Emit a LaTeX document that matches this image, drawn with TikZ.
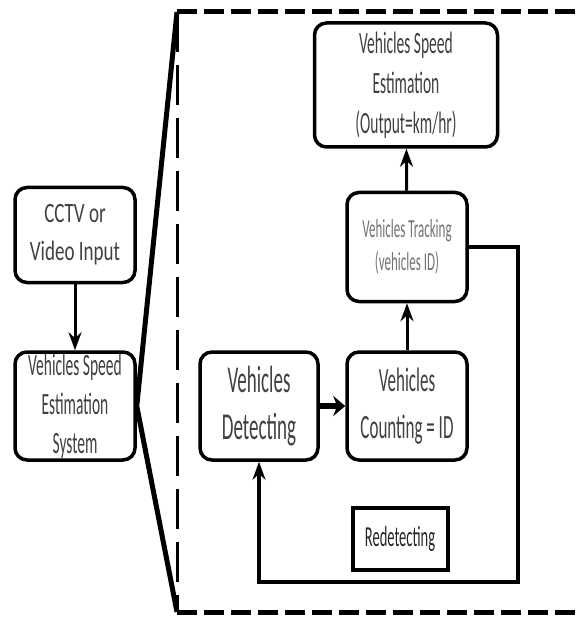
\documentclass[tikz,border=0pt]{standalone}
\usepackage{fontspec}
\setmainfont{Carlito}
\newfontfamily\narrowfont[FakeStretch=0.5]{Carlito}
\newfontfamily\wideishfont[FakeStretch=0.68]{Carlito}
\usetikzlibrary{arrows.meta}
\begin{document}
\begin{tikzpicture}[x=1pt, y=-1pt, line cap=butt, >={Stealth[length=18pt,width=13pt]}]
	\tikzset{blockbox/.style={draw, line width=3.5pt, rounded corners=12pt, inner sep=0pt, align=center, text=black!75},
		hframe/.style={line width=5pt, dash pattern=on 20pt off 7pt},
		vframe/.style={line width=3pt, dash pattern=on 40pt off 13pt}}
	\useasboundingbox (0,0) rectangle (577,617);
	\node[blockbox, minimum width=120pt, minimum height=95pt, font=\wideishfont\fontsize{28}{38}\selectfont] (cctv) at (75,235) {CCTV or\\Video Input};
	\node[blockbox, minimum width=120pt, minimum height=108pt, font=\narrowfont\fontsize{31}{39}\selectfont] (vses) at (75,406) {Vehicles Speed\\Estimation\\System};
	\node[blockbox, minimum width=118pt, minimum height=108pt, font=\narrowfont\fontsize{38}{47}\selectfont] (vdetect) at (259,406) {Vehicles\\Detecting};
	\node[blockbox, minimum width=120pt, minimum height=108pt, font=\narrowfont\fontsize{34}{47}\selectfont] (vcount) at (407,406) {Vehicles\\Counting = ID};
	\node[blockbox, minimum width=120pt, minimum height=109pt, text=black!55, font=\narrowfont\fontsize{26}{33}\selectfont] (vtrack) at (407,247) {Vehicles Tracking\\(vehicles ID)};
	\node[blockbox, minimum width=183pt, minimum height=124pt, font=\narrowfont\fontsize{31}{40}\selectfont] (vspeed) at (406,85) {Vehicles Speed\\Estimation\\(Output=km/hr)};
	\node[blockbox, rounded corners=0pt, line width=4pt, minimum width=95pt, minimum height=62pt, text=black!85, font=\narrowfont\fontsize{29}{35}\selectfont] (redetect) at (400,539) {Redetecting};
	\coordinate (fNW) at (177,12);
	\coordinate (fSW) at (177,612);
	\coordinate (fNE) at (577,12);
	\coordinate (fSE) at (577,612);
	\coordinate (loopR) at (518,582);
	\draw[hframe] (fNW) -- (fNE) (fSW) -- (fSE);
	\draw[vframe] (fNW) -- (fSW);
	\draw[line width=5pt, line join=round] (fNW) -- (vses.east) -- (fSW);
	\draw[line width=3pt, ->] (cctv) -- (vses);
	\draw[line width=6pt, ->, >={Stealth[length=12pt,width=20pt]}] (vdetect) -- (vcount);
	\draw[line width=3pt, ->] (vcount) -- (vtrack);
	\draw[line width=3pt, ->] (vtrack) -- (vspeed);
	\draw[line width=4pt, ->] (vtrack.east) -| (loopR) -| (vdetect.south);
\end{tikzpicture}
\end{document}
